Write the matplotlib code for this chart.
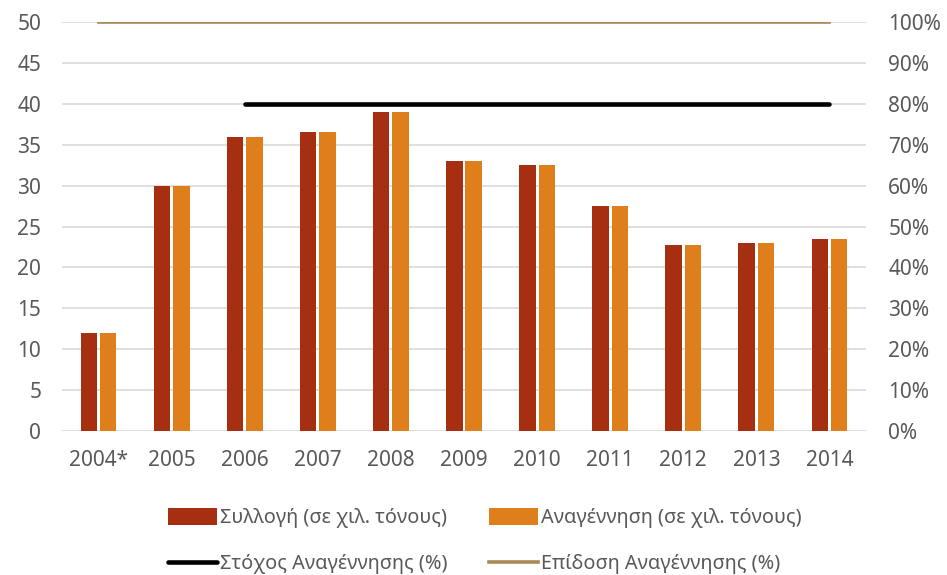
import numpy as np
import matplotlib
matplotlib.use('Agg')
import matplotlib.pyplot as plt
from matplotlib.ticker import PercentFormatter

plt.rcParams['font.family'] = ['Noto Sans', 'DejaVu Sans']

# data
years = ['2004*', '2005', '2006', '2007', '2008', '2009', '2010', '2011', '2012', '2013', '2014']
collection = [12.0, 30.0, 36.0, 36.5, 39.0, 33.0, 32.5, 27.5, 22.8, 23.0, 23.5]
recovery = [12.0, 30.0, 36.0, 36.5, 39.0, 33.0, 32.5, 27.5, 22.8, 23.0, 23.5]
target_pct = [None, None, 0.80, 0.80, 0.80, 0.80, 0.80, 0.80, 0.80, 0.80, 0.80]
performance_pct = [1.0] * 11

c_coll = '#A62F11'
c_rec = '#DE7F1B'
c_target = '#000000'
c_perf = '#A88A58'
txt = '#595959'
grid = '#D9D9D9'

fig = plt.figure(figsize=(9.47, 5.75), dpi=100)
ax = fig.add_axes([0.0655, 0.2504, 0.849, 0.7113])
ax2 = ax.twinx()

x = np.arange(len(years))
w = 0.225
ax.bar(x - w / 2 - 0.02, collection, w, color=c_coll, label='Συλλογή (σε χιλ. τόνους)', zorder=3)
ax.bar(x + w / 2 + 0.02, recovery, w, color=c_rec, label='Αναγέννηση (σε χιλ. τόνους)', zorder=3)

tgt = np.array([np.nan if v is None else v for v in target_pct], dtype=float)
ax2.plot(x, tgt, color=c_target, lw=3.3, solid_capstyle='round', label='Στόχος Αναγέννησης (%)')
ax2.plot(x, performance_pct, color=c_perf, lw=2.6, label='Επίδοση Αναγέννησης (%)')

ax.set_xlim(-0.5, len(years) - 0.5)
ax.set_ylim(0, 50)
ax.set_yticks(np.arange(0, 51, 5))
ax2.set_ylim(0, 1)
ax2.set_yticks(np.arange(0, 1.01, 0.1))
ax2.yaxis.set_major_formatter(PercentFormatter(1.0, decimals=0))

ax.set_xticks(x)
ax.set_xticklabels(years)
ax.yaxis.grid(True, color=grid, lw=1.2, zorder=0)
ax.set_axisbelow(True)

for a in (ax, ax2):
    for s in a.spines.values():
        s.set_visible(False)
    a.tick_params(length=0, labelsize=15, colors=txt)
ax.tick_params(axis='y', pad=15)
ax2.tick_params(axis='y', pad=16)
ax.tick_params(axis='x', pad=14)

h1, l1 = ax.get_legend_handles_labels()
h2, l2 = ax2.get_legend_handles_labels()
handles = [h1[0], h2[0], h1[1], h2[1]]
labels = [l1[0], l2[0], l1[1], l2[1]]
leg = fig.legend(handles, labels, ncol=2, loc='center', bbox_to_anchor=(0.512, 0.059),
                 frameon=False, fontsize=14.3, handlelength=2.45, handleheight=0.95,
                 handletextpad=0.15, columnspacing=2.1, labelspacing=1.3, labelcolor=txt)

fig.savefig('out.png', dpi=100)
